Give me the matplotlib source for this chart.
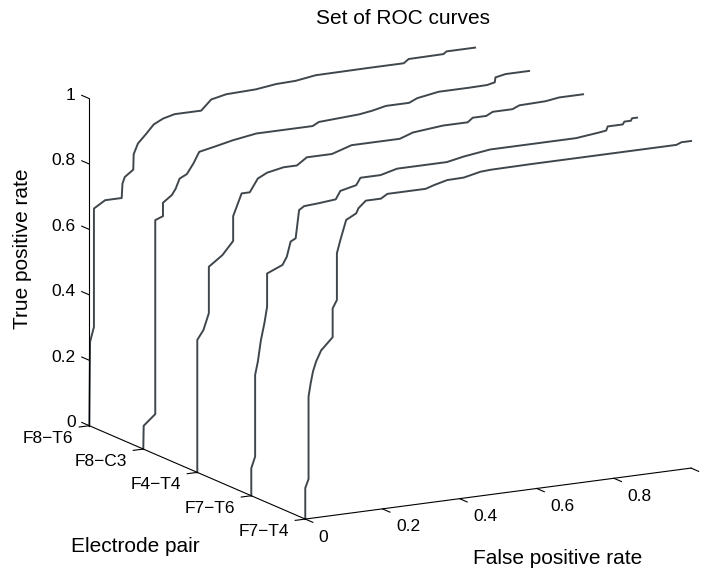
import numpy as np
import matplotlib
matplotlib.use('Agg')
from matplotlib import pyplot as plt
from mpl_toolkits.mplot3d import proj3d

# electrode pairs, back to front
pairs = ['F8\u2212T6', 'F8\u2212C3', 'F4\u2212T4', 'F7\u2212T6', 'F7\u2212T4']
pair_pos = [5, 4, 3, 2, 1]

fpr_f8t6 = [0, 0.002, 0.012, 0.012, 0.041, 0.084, 0.086, 0.092, 0.114, 0.115,
            0.126, 0.148, 0.167, 0.191, 0.221, 0.29, 0.316, 0.355, 0.432, 0.484,
            0.535, 0.587, 0.724, 0.815, 0.828, 0.918, 0.926, 1.0]
tpr_f8t6 = [0, 0.256, 0.30, 0.662, 0.683, 0.683, 0.727, 0.746, 0.765, 0.812,
            0.843, 0.870, 0.895, 0.909, 0.918, 0.918, 0.948, 0.958, 0.961, 0.969,
            0.971, 0.980, 0.981, 0.981, 0.992, 0.993, 1.0, 1.0]

fpr_f8c3 = [0, 0.001, 0.031, 0.031, 0.051, 0.051, 0.074, 0.084, 0.094, 0.113,
            0.130, 0.145, 0.186, 0.233, 0.293, 0.439, 0.455, 0.560, 0.594, 0.629,
            0.689, 0.710, 0.766, 0.844, 0.891, 0.911, 0.913, 0.939, 1.0]
tpr_f8c3 = [0, 0.071, 0.102, 0.695, 0.704, 0.745, 0.765, 0.783, 0.812, 0.823,
            0.853, 0.886, 0.896, 0.908, 0.919, 0.919, 0.929, 0.936, 0.942, 0.951,
            0.951, 0.962, 0.973, 0.973, 0.974, 0.979, 0.994, 1.0, 1.0]

fpr_f4t4 = [0, 0, 0.016, 0.030, 0.030, 0.065, 0.093, 0.093, 0.115, 0.136,
            0.157, 0.181, 0.224, 0.258, 0.284, 0.349, 0.400, 0.473, 0.525, 0.559,
            0.637, 0.701, 0.714, 0.749, 0.766, 0.817, 0.835, 0.903, 0.938, 1.0]
tpr_f4t4 = [0, 0.405, 0.433, 0.482, 0.624, 0.654, 0.693, 0.769, 0.835, 0.835,
            0.874, 0.888, 0.898, 0.898, 0.919, 0.919, 0.938, 0.938, 0.938, 0.952,
            0.961, 0.961, 0.973, 0.973, 0.983, 0.983, 0.992, 0.994, 1.0, 1.0]

fpr_f7t6 = [0, 0, 0.010, 0.010, 0.017, 0.025, 0.034, 0.041, 0.041, 0.081,
            0.092, 0.102, 0.115, 0.124, 0.137, 0.175, 0.219, 0.231, 0.272, 0.283,
            0.335, 0.378, 0.507, 0.550, 0.619, 0.842, 0.902, 0.920, 0.924, 0.963,
            0.967, 0.984, 0.987, 1.0]
tpr_f7t6 = [0, 0.084, 0.118, 0.368, 0.407, 0.472, 0.522, 0.571, 0.673, 0.693,
            0.716, 0.761, 0.769, 0.854, 0.864, 0.867, 0.872, 0.896, 0.907, 0.928,
            0.928, 0.941, 0.941, 0.951, 0.962, 0.962, 0.970, 0.973, 0.985, 0.985,
            0.993, 0.993, 1.0, 1.0]

fpr_f7t4 = [0, 0, 0.0085, 0.0085, 0.014, 0.020, 0.028, 0.041, 0.071, 0.071,
            0.082, 0.082, 0.091, 0.106, 0.132, 0.138, 0.157, 0.196, 0.213, 0.312,
            0.334, 0.368, 0.411, 0.454, 0.480, 0.583, 0.764, 0.962, 0.975, 1.0]
tpr_f7t4 = [0, 0.095, 0.121, 0.373, 0.413, 0.448, 0.477, 0.509, 0.545, 0.633,
            0.657, 0.800, 0.839, 0.898, 0.914, 0.929, 0.949, 0.949, 0.961, 0.961,
            0.969, 0.979, 0.980, 0.991, 0.993, 0.994, 0.994, 0.994, 1.0, 1.0]

fpr_list = [fpr_f8t6, fpr_f8c3, fpr_f4t4, fpr_f7t6, fpr_f7t4]
tpr_list = [tpr_f8t6, tpr_f8c3, tpr_f4t4, tpr_f7t6, tpr_f7t4]

x_ticks = [0, 0.2, 0.4, 0.6, 0.8, 1]
x_labels = ['0', '0.2', '0.4', '0.6', '0.8']  # the "1" falls off the right edge
z_ticks = [0, 0.2, 0.4, 0.6, 0.8, 1]

plt.rcParams['font.family'] = ['Liberation Sans', 'DejaVu Sans']

W, H = 706, 571
fig = plt.figure(figsize=(W / 100, H / 100), dpi=100)
ax = fig.add_axes([0, 0, 1, 1], projection='3d', proj_type='ortho')
ax.set_xlim(0, 1)
ax.set_ylim(1, 5)
ax.set_zlim(0, 1)
ax.set_box_aspect((441, 446.5, 337))
ax.view_init(elev=13.83, azim=-118.94)
ax.set_axis_off()

line_col = '#3f474d'
for fpr, tpr, yp in zip(fpr_list, tpr_list, pair_pos):
    ax.plot(fpr, [yp] * len(fpr), tpr, color=line_col, lw=1.4)

# axis lines and tick marks
ak = dict(color='black', lw=0.8)
ax.plot([0, 0], [5, 5], [0, 1], **ak)
ax.plot([0, 0], [5, 1], [0, 0], **ak)
ax.plot([0, 1], [1, 1], [0, 0], **ak)
for zv in z_ticks:
    ax.plot([0, 0], [5, 5.14], [zv, zv], **ak)
for yp in pair_pos:
    ax.plot([0, -0.026], [yp, yp], [0, 0], **ak)
for xv in x_ticks:
    ax.plot([xv, xv], [1, 0.86], [0, 0], **ak)


def to_px(x, y, z):
    xs, ys, _ = proj3d.proj_transform(x, y, z, ax.M)
    return np.array(ax.transData.transform((xs, ys)))


# fit the projected box onto the reference pixel positions
fig.canvas.draw()
p1 = to_px(0, 5, 0)
p2 = to_px(1, 1, 1)
t1 = np.array([89.3, H - 425.7])
t2 = np.array([691.5, H - 141.2])
bb = ax.get_position()
S0 = bb.width * W
C0 = np.array([(bb.x0 + bb.width / 2) * W, (bb.y0 + bb.height / 2) * H])
scale = 0.5 * ((t2[0] - t1[0]) / (p2[0] - p1[0]) + (t2[1] - t1[1]) / (p2[1] - p1[1]))
S = S0 * scale
q1 = (p1 - C0) / S0
C = t1 - S * q1
ax.set_position([(C[0] - S / 2) / W, (C[1] - S / 2) / H, S / W, S / H])
fig.canvas.draw()

# tick labels, placed at projected positions
fs_tick = 12.5
for zv in z_ticks:
    px = to_px(0, 5.25, zv - 0.008)
    fig.text(px[0] / W, px[1] / H, f'{zv:g}', ha='right', va='center', fontsize=fs_tick)
for yp, name in zip(pair_pos, pairs):
    px = to_px(-0.041, yp, -0.032)
    fig.text(px[0] / W, px[1] / H, name, ha='right', va='center', fontsize=fs_tick)
for xv, lab in zip(x_ticks, x_labels):
    px = to_px(xv, 0.75, -0.037)
    fig.text(px[0] / W, px[1] / H, lab, ha='left', va='center', fontsize=fs_tick)

fs_lab = 15
fig.text(403 / W, 1 - 18 / H, 'Set of ROC curves', ha='center', va='center', fontsize=fs_lab)
fig.text(23 / W, 1 - 249 / H, 'True positive rate', rotation=90, ha='center', va='center', fontsize=fs_lab)
fig.text(135 / W, 1 - 547 / H, 'Electrode pair', ha='center', va='center', fontsize=fs_lab)
fig.text(558 / W, 1 - 558 / H, 'False positive rate', ha='center', va='center', fontsize=fs_lab)

fig.savefig('out.png', dpi=100)
